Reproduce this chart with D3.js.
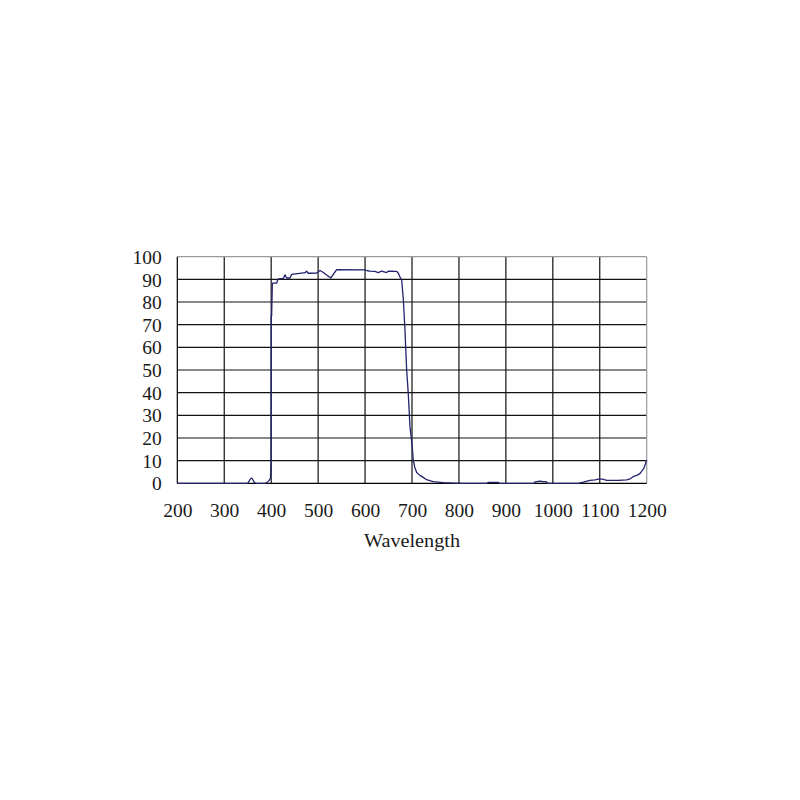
<!DOCTYPE html>
<html>
<head>
<meta charset="utf-8">
<script src="https://cdn.jsdelivr.net/npm/d3@7"></script>
<style>
  html, body { margin: 0; padding: 0; background: #fff; }
  svg { display: block; }
</style>
</head>
<body>
<svg id="chart" width="800" height="800"></svg>
<script>
// spectrum (wavelength in nm, transmittance in %)
const wavelength = [
  200, 350, 353, 356, 358.5, 361, 364, 367, 386, 391, 395, 398.5, 399.5, 400,
  401, 402.5, 412, 413.5, 415.2, 425.8, 429.4, 433, 440, 443.7, 468.4, 472,
  475.5, 479, 482.7, 496.9, 504, 511, 526.8, 539.6, 600, 605, 610.5, 621, 628,
  635.4, 646, 649.5, 667.4, 670.9, 674.5, 678, 681.6, 685, 688.6, 692, 695.7,
  699, 701, 701.6, 702.6, 706, 710, 717, 724, 731, 745, 767, 790, 809, 860,
  862, 884, 886, 960, 962, 968, 972, 978, 987, 989, 1054, 1065, 1079, 1090,
  1097, 1106, 1115, 1140, 1157, 1165, 1171, 1180, 1186, 1194, 1200
];
const transmittance = [
  0, 0, 1.0, 2.0, 2.3, 1.6, 0.4, 0, 0, 0.3, 1.2, 2.2, 10, 74,
  74, 88.3, 88.4, 89.7, 90.2, 90.4, 92.0, 90.6, 90.6, 92.2, 92.9, 92.9,
  93.6, 92.7, 92.7, 92.8, 93.9, 93.0, 90.6, 94.3, 94.2, 93.8, 93.6, 93.5, 93.0,
  93.6, 93.0, 93.6, 93.5, 92.7, 91.0, 89.7, 80.9, 67.7, 50, 39.8, 25,
  19, 14.7, 13.4, 10.3, 7.0, 4.8, 3.5, 2.6, 1.6, 0.7, 0.3, 0.1, 0, 0,
  0.4, 0.4, 0, 0, 0.6, 0.8, 1.0, 0.8, 0.6, 0, 0, 0.5, 1.3, 1.5,
  1.8, 1.8, 1.3, 1.3, 1.5, 2.0, 2.9, 3.6, 4.4, 6.6, 10.3
];
const xTicks = [200, 300, 400, 500, 600, 700, 800, 900, 1000, 1100, 1200];
const yTicks = [0, 10, 20, 30, 40, 50, 60, 70, 80, 90, 100];
const xTitle = "Wavelength";

const svg = d3.select("#chart");
svg.append("rect").attr("width", 800).attr("height", 800).attr("fill", "#fff");

const x = d3.scaleLinear([200, 1200], [177.3, 646.7]);
const y = d3.scaleLinear([0, 100], [483.3, 256.7]);

const labelFont = "'Liberation Serif', 'Times New Roman', serif";

/* ——— grid ——————————————————————————————— */
const grid = svg.append("g").attr("stroke-width", 1.2);
grid.selectAll("line.v")
  .data(xTicks.slice(1, -1))
  .join("line")
    .attr("class", "v")
    .attr("x1", d => x(d)).attr("x2", d => x(d))
    .attr("y1", y(100)).attr("y2", y(0))
    .attr("stroke", "#111");
grid.selectAll("line.h")
  .data(yTicks.slice(1, -1))
  .join("line")
    .attr("class", "h")
    .attr("x1", x(200)).attr("x2", x(1200))
    .attr("y1", d => y(d)).attr("y2", d => y(d))
    .attr("stroke", "#111");

// frame: top and right grey, left and bottom black
grid.append("line")
  .attr("x1", x(200)).attr("x2", x(1200))
  .attr("y1", y(100)).attr("y2", y(100))
  .attr("stroke", "#9a9a9a");
grid.append("line")
  .attr("x1", x(1200)).attr("x2", x(1200))
  .attr("y1", y(100)).attr("y2", y(0))
  .attr("stroke", "#9a9a9a");
grid.append("line")
  .attr("x1", x(200)).attr("x2", x(200))
  .attr("y1", y(100)).attr("y2", y(0))
  .attr("stroke", "#000");
grid.append("line")
  .attr("x1", x(200)).attr("x2", x(1200))
  .attr("y1", y(0)).attr("y2", y(0))
  .attr("stroke", "#000");

/* ——— axes (labels only) ————————————————— */
const yAxis = svg.append("g")
  .attr("transform", `translate(${x(200)},0)`)
  .call(d3.axisLeft(y).tickValues(yTicks).tickFormat(d3.format("d"))
    .tickSize(0).tickPadding(15.5));
const xAxis = svg.append("g")
  .attr("transform", `translate(0,${y(0)})`)
  .call(d3.axisBottom(x).tickValues(xTicks).tickFormat(d3.format("d"))
    .tickSize(0).tickPadding(20));

[yAxis, xAxis].forEach(g => {
  g.select(".domain").remove();
  g.selectAll("text")
    .attr("font-family", labelFont)
    .attr("font-size", 19.5)
    .attr("fill", "#1a1a1a");
});
yAxis.selectAll("text").attr("dy", "0.34em");

svg.append("text")
  .attr("x", x(700))
  .attr("y", 546.5)
  .attr("text-anchor", "middle")
  .attr("font-family", labelFont)
  .attr("font-size", 19.5)
  .attr("textLength", 96)
  .attr("lengthAdjust", "spacingAndGlyphs")
  .attr("fill", "#1a1a1a")
  .text(xTitle);

/* ——— curve ————————————————————————————— */
const line = d3.line()
  .x((d, i) => x(wavelength[i]))
  .y(d => y(d));

svg.append("path")
  .datum(transmittance)
  .attr("fill", "none")
  .attr("stroke", "#23236e")
  .attr("stroke-width", 1.3)
  .attr("stroke-linejoin", "round")
  .attr("d", line);
</script>
</body>
</html>
